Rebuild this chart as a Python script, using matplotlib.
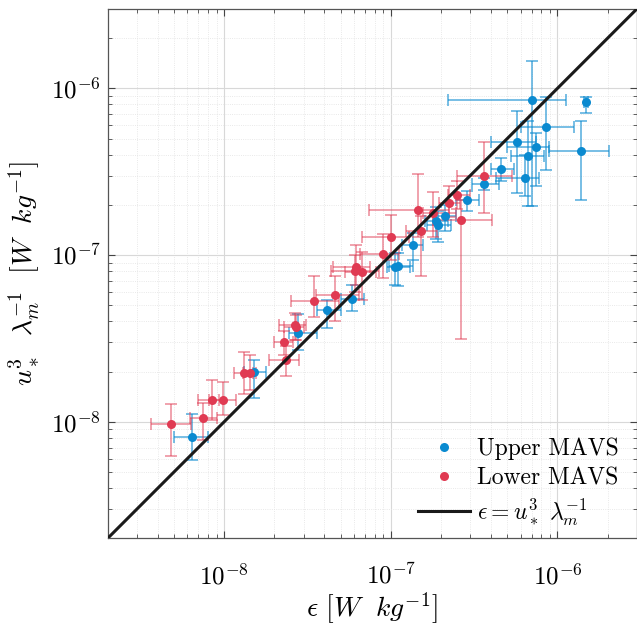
import matplotlib
matplotlib.use('Agg')
import matplotlib.pyplot as plt
import numpy as np
from matplotlib.lines import Line2D

plt.rcParams.update({
    'font.family': 'serif',
    'font.serif': ['cmr10'],
    'mathtext.fontset': 'cm',
    'axes.formatter.use_mathtext': True,
    'font.size': 17,
})

# Upper MAVS: epsilon, u*^3/lambda_m, and error-bar extents (low, high)
up_x = [6.37e-9, 1.51e-8, 2.79e-8, 4.13e-8, 5.89e-8, 1.06e-7, 1.10e-7, 1.35e-7,
        1.86e-7, 1.93e-7, 2.11e-7, 2.85e-7, 3.64e-7, 4.58e-7, 5.68e-7, 6.38e-7,
        6.68e-7, 7.03e-7, 7.43e-7, 8.53e-7, 1.38e-6, 1.48e-6]
up_y = [8.1e-9, 1.99e-8, 3.41e-8, 4.66e-8, 5.45e-8, 8.5e-8, 8.6e-8, 1.15e-7,
        1.59e-7, 1.52e-7, 1.71e-7, 2.13e-7, 2.67e-7, 3.28e-7, 4.74e-7, 2.90e-7,
        3.91e-7, 8.47e-7, 4.43e-7, 5.86e-7, 4.19e-7, 8.24e-7]
up_xlo = [5.0e-9, 1.32e-8, 2.45e-8, 3.63e-8, 5.0e-8, 9.5e-8, 9.8e-8, 1.17e-7,
          1.6e-7, 1.65e-7, 1.85e-7, 2.46e-7, 3.09e-7, 3.98e-7, 3.98e-7, 4.27e-7,
          5.24e-7, 2.19e-7, 5.0e-7, 6.0e-7, 8.95e-7, 1.44e-6]
up_xhi = [8.0e-9, 1.78e-8, 3.6e-8, 5.0e-8, 6.9e-8, 1.3e-7, 1.35e-7, 1.55e-7,
          2.2e-7, 2.3e-7, 2.45e-7, 3.38e-7, 4.47e-7, 5.5e-7, 7.4e-7, 7.8e-7,
          8.35e-7, 1.13e-6, 8.95e-7, 1.26e-6, 2.04e-6, 1.52e-6]
up_ylo = [5.9e-9, 1.39e-8, 2.7e-8, 3.65e-8, 4.6e-8, 6.6e-8, 6.5e-8, 9.4e-8,
          1.25e-7, 1.2e-7, 1.4e-7, 1.83e-7, 2.45e-7, 2.8e-7, 2.35e-7, 2.25e-7,
          1.98e-7, 1.98e-7, 2.6e-7, 3.25e-7, 2.15e-7, 7.1e-7]
up_yhi = [1.11e-8, 2.36e-8, 4.46e-8, 5.4e-8, 6.64e-8, 1.03e-7, 1.03e-7, 1.36e-7,
          1.95e-7, 1.85e-7, 2.0e-7, 2.41e-7, 2.9e-7, 3.8e-7, 7.36e-7, 3.97e-7,
          6.4e-7, 1.46e-6, 5.4e-7, 8.86e-7, 6.4e-7, 8.9e-7]

# Lower MAVS
lo_x = [4.83e-9, 7.48e-9, 8.47e-9, 9.8e-9, 1.31e-8, 1.43e-8, 2.30e-8, 2.36e-8,
        2.66e-8, 2.70e-8, 3.47e-8, 4.62e-8, 6.07e-8, 6.22e-8, 6.67e-8, 9.0e-8,
        1.0e-7, 1.45e-7, 1.52e-7, 1.8e-7, 2.24e-7, 2.51e-7, 2.63e-7, 3.64e-7]
lo_y = [9.7e-9, 1.06e-8, 1.36e-8, 1.36e-8, 1.96e-8, 1.96e-8, 2.99e-8, 2.36e-8,
        3.79e-8, 3.70e-8, 5.31e-8, 5.79e-8, 8.06e-8, 8.49e-8, 7.92e-8, 1.02e-7,
        1.29e-7, 1.87e-7, 1.40e-7, 1.79e-7, 2.05e-7, 2.28e-7, 1.63e-7, 2.99e-7]
lo_xlo = [3.63e-9, 6.25e-9, 7.0e-9, 8.1e-9, 1.15e-8, 1.3e-8, 2.0e-8, 1.85e-8,
          2.12e-8, 2.3e-8, 2.51e-8, 3.55e-8, 4.4e-8, 4.5e-8, 5.3e-8, 6.5e-8,
          6.76e-8, 7.4e-8, 1.23e-7, 1.55e-7, 1.95e-7, 2.2e-7, 1.78e-7, 2.51e-7]
lo_xhi = [6.3e-9, 9.0e-9, 9.3e-9, 1.17e-8, 1.5e-8, 1.55e-8, 2.6e-8, 2.82e-8,
          3.1e-8, 3.0e-8, 4.9e-8, 6.46e-8, 8.5e-8, 7.5e-8, 8.2e-8, 1.12e-7,
          1.29e-7, 2.24e-7, 1.9e-7, 2.46e-7, 2.6e-7, 3.0e-7, 4.06e-7, 5.36e-7]
lo_ylo = [6.2e-9, 7.8e-9, 1.03e-8, 1.10e-8, 1.46e-8, 1.56e-8, 2.5e-8, 1.87e-8,
          3.1e-8, 3.1e-8, 4.28e-8, 4.0e-8, 6.0e-8, 6.6e-8, 5.4e-8, 7.3e-8,
          9.4e-8, 1.29e-7, 7.45e-8, 1.29e-7, 1.7e-7, 1.9e-7, 3.14e-8, 1.79e-7]
lo_yhi = [1.28e-8, 1.30e-8, 1.77e-8, 1.73e-8, 2.64e-8, 2.5e-8, 3.5e-8, 2.83e-8,
          4.5e-8, 4.4e-8, 7.45e-8, 7.45e-8, 1.0e-7, 1.15e-7, 1.05e-7, 1.33e-7,
          1.75e-7, 3.08e-7, 1.71e-7, 2.39e-7, 2.6e-7, 2.8e-7, 2.15e-7, 4.76e-7]

major_ticks = [1e-8, 1e-7, 1e-6]

blue = '#0a8ad0'
red = '#e03a52'


def errs(v, vlo, vhi):
    v, vlo, vhi = np.array(v), np.array(vlo), np.array(vhi)
    return [v - vlo, vhi - v]


fig = plt.figure(figsize=(6.37, 6.26), dpi=100)
ax = fig.add_axes([0.169, 0.14, 0.831, 0.846])

ax.errorbar(up_x, up_y, xerr=errs(up_x, up_xlo, up_xhi), yerr=errs(up_y, up_ylo, up_yhi),
            fmt='none', ecolor=blue, alpha=0.7, elinewidth=1.1, capsize=4, capthick=1.1, zorder=2)
ax.errorbar(lo_x, lo_y, xerr=errs(lo_x, lo_xlo, lo_xhi), yerr=errs(lo_y, lo_ylo, lo_yhi),
            fmt='none', ecolor=red, alpha=0.6, elinewidth=1.1, capsize=4, capthick=1.1, zorder=2)
ax.plot(up_x, up_y, 'o', color=blue, ms=6.5, mec='none', zorder=3)
ax.plot(lo_x, lo_y, 'o', color=red, ms=6.5, mec='none', zorder=3)

lims = [2e-9, 3e-6]
ax.plot(lims, lims, color='#1a1a1a', lw=2.2, zorder=4)

ax.set_xscale('log')
ax.set_yscale('log')
ax.set_xticks(major_ticks)
ax.set_yticks(major_ticks)
ax.set_xlim(lims)
ax.set_ylim(lims)

ax.grid(True, which='major', color='#d8d8d8', lw=0.8)
ax.grid(True, which='minor', color='#e2e2e2', lw=0.6, ls=':')
ax.set_axisbelow(True)
ax.tick_params(which='both', direction='in', top=True, right=True, colors='#444444',
               labelcolor='black', labelsize=18)
ax.tick_params(which='major', length=5, width=0.8)
ax.tick_params(which='minor', length=3, width=0.6)
ax.tick_params(axis='x', which='major', pad=18)
ax.tick_params(axis='y', which='major', pad=5)
for s in ax.spines.values():
    s.set_color('#555555')
    s.set_linewidth(0.9)

ax.set_xlabel(r'$\epsilon\ [W\ \ kg^{-1}]$', fontsize=20, labelpad=1)
ax.set_ylabel(r'$u_*^3\ \ \lambda_m^{-1}\ \ [W\ \ kg^{-1}]$', fontsize=20, labelpad=6)

handles = [Line2D([], [], marker='o', ls='none', color=blue, ms=6.5, mec='none'),
           Line2D([], [], marker='o', ls='none', color=red, ms=6.5, mec='none'),
           Line2D([], [], color='#1a1a1a', lw=2.2)]
ax.legend(handles, ['Upper MAVS', 'Lower MAVS', r'$\epsilon = u_*^3\ \lambda_m^{-1}$'],
          loc='lower right', bbox_to_anchor=(0.985, 0.0), frameon=False, fontsize=17,
          handlelength=2.2, handletextpad=0.3, labelspacing=0.3, borderaxespad=0.05)

fig.savefig('out.png', dpi=100)
